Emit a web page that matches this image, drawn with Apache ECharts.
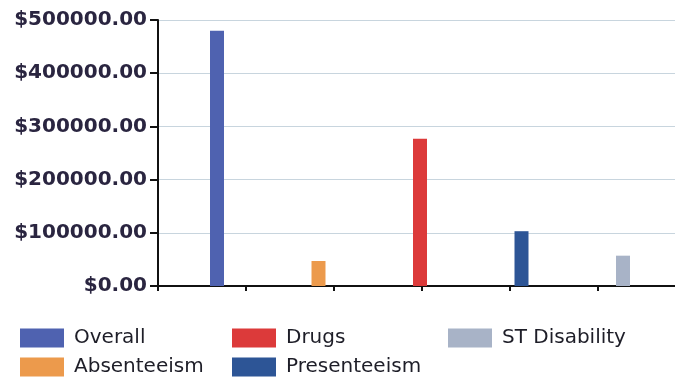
<!DOCTYPE html>
<html>
<head>
<meta charset="utf-8">
<script src="https://cdn.jsdelivr.net/npm/echarts@6/dist/echarts.min.js"></script>
<style>
html,body{margin:0;padding:0;background:#fff;overflow:hidden;width:675px;height:379px;}
#chart{width:682px;height:379px;}
</style>
</head>
<body>
<div id="chart"></div>
<script>
var seriesNames = ['Overall', 'Absenteeism', 'Drugs', 'Presenteeism', 'ST Disability'];
var seriesValues = [480000, 47000, 277000, 103000, 57000];
var seriesColors = ['#4f62b0', '#ec9a4c', '#dc3a3a', '#2d5596', '#a8b3c7'];
var categories = ['Cost'];
var yTicks = [0, 100000, 200000, 300000, 400000, 500000];

var chart = echarts.init(document.getElementById('chart'), null, {renderer: 'canvas'});

var series = seriesNames.map(function (name, i) {
  return {
    name: name,
    type: 'bar',
    xAxisIndex: 0,
    yAxisIndex: 0,
    barWidth: 14,
    barGap: '625%',
    data: [seriesValues[i]],
    itemStyle: {color: seriesColors[i]}
  };
});

var legendText = {fontFamily: 'DejaVu Sans', fontSize: 20, color: '#1e1e28', padding: [0, 0, 0, 5]};
function mkLegend(left, names) {
  return {
    orient: 'vertical',
    left: left,
    top: 328,
    icon: 'rect',
    itemWidth: 44,
    itemHeight: 19,
    itemGap: 9,
    padding: 0,
    textStyle: legendText,
    selectedMode: false,
    data: names
  };
}

chart.setOption({
  animation: false,
  backgroundColor: '#ffffff',
  grid: {left: 158, top: 20, bottom: 93, right: 0, containLabel: false},
  legend: [
    mkLegend(20, [seriesNames[0], seriesNames[1]]),
    mkLegend(232, [seriesNames[2], seriesNames[3]]),
    mkLegend(448, [seriesNames[4]])
  ],
  xAxis: [
    {
      type: 'category',
      data: categories,
      axisLine: {show: true, lineStyle: {color: '#111', width: 2}},
      axisTick: {show: false},
      axisLabel: {show: false},
      splitLine: {show: false}
    },
    {
      type: 'value',
      position: 'bottom',
      min: 0,
      max: 5.955,
      interval: 1,
      axisLine: {show: false},
      axisTick: {show: true, length: 5, lineStyle: {color: '#111', width: 2}},
      axisLabel: {show: false},
      splitLine: {show: false}
    }
  ],
  yAxis: {
    type: 'value',
    min: yTicks[0],
    max: yTicks[yTicks.length - 1],
    interval: yTicks[1] - yTicks[0],
    axisLine: {show: true, lineStyle: {color: '#111', width: 2}},
    axisTick: {show: true, length: 8, lineStyle: {color: '#111', width: 2}},
    axisLabel: {
      margin: 11,
      fontFamily: 'DejaVu Sans',
      fontSize: 20,
      fontWeight: 'bold',
      color: '#2a2540',
      formatter: function (v) { return '$' + v.toFixed(2); }
    },
    splitLine: {show: true, lineStyle: {color: '#c8d5de', width: 1}}
  },
  series: series
});
</script>
</body>
</html>
